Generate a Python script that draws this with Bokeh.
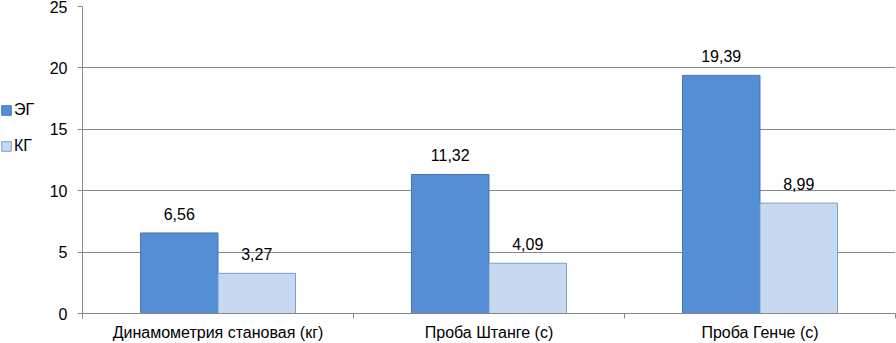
import numpy as np
from bokeh.plotting import figure
from bokeh.layouts import row
from bokeh.models import (ColumnDataSource, Range1d, FixedTicker, Legend, LegendItem,
                          LabelSet)
from bokeh.core.properties import value
from bokeh.embed import file_html
from bokeh.resources import INLINE

categories = ["Динамометрия становая (кг)", "Проба Штанге (с)", "Проба Генче (с)"]
series_names = ["ЭГ", "КГ"]
eg_values = [6.56, 11.32, 19.39]
kg_values = [3.27, 4.09, 8.99]
y_ticks = [0, 5, 10, 15, 20, 25]

FONT = "Liberation Sans"
FS = "16px"
BAR_W = 0.286
GREY = "#878787"
EG_FILL, EG_LINE = "#558ED5", "#4677BE"
KG_FILL, KG_LINE = "#C6D9F1", "#7A9FD0"

W, H = 896, 343
LEG_W = 40

centers = np.arange(len(categories)) + 0.5
fmt = lambda v: f"{v:.2f}".replace(".", ",")

src_eg = ColumnDataSource(dict(x=centers - BAR_W / 2, top=eg_values,
                               lbl=[fmt(v) for v in eg_values]))
src_kg = ColumnDataSource(dict(x=centers + BAR_W / 2, top=kg_values,
                               lbl=[fmt(v) for v in kg_values]))

p = figure(width=W - LEG_W, height=H, output_backend="svg", toolbar_location=None,
           x_range=Range1d(0, len(categories)), y_range=Range1d(0, 25),
           min_border_left=82 - LEG_W, min_border_right=1, min_border_top=6,
           min_border_bottom=29)
p.outline_line_color = None
p.background_fill_color = "white"
p.border_fill_color = "white"

p.vbar(x="x", top="top", width=BAR_W, source=src_eg,
       fill_color=EG_FILL, line_color=EG_LINE, line_width=1)
p.vbar(x="x", top="top", width=BAR_W, source=src_kg,
       fill_color=KG_FILL, line_color=KG_LINE, line_width=1)

for src in (src_eg, src_kg):
    p.add_layout(LabelSet(x="x", y="top", text="lbl", source=src,
                          text_align="center", text_baseline="alphabetic",
                          y_offset=13, text_font=value(FONT), text_font_size=value(FS),
                          text_color="#000000"))

# axes
p.xaxis.ticker = FixedTicker(ticks=list(centers), minor_ticks=list(range(len(categories) + 1)))
p.xaxis.major_label_overrides = {float(c): name for c, name in zip(centers, categories)}
p.xaxis.major_tick_line_color = None
p.xaxis.major_tick_out = 0
p.xaxis.major_tick_in = 0
p.xaxis.minor_tick_out = 5
p.xaxis.minor_tick_in = 0
p.xaxis.minor_tick_line_color = GREY
p.xaxis.axis_line_color = GREY
p.xaxis.major_label_standoff = 5
p.xaxis.major_label_text_font = FONT
p.xaxis.major_label_text_font_size = FS
p.xaxis.major_label_text_color = "#000000"

p.yaxis.ticker = FixedTicker(ticks=y_ticks)
p.yaxis.major_tick_out = 5
p.yaxis.major_tick_in = 0
p.yaxis.minor_tick_line_color = None
p.yaxis.major_tick_line_color = GREY
p.yaxis.axis_line_color = GREY
p.yaxis.major_label_standoff = 10
p.yaxis.major_label_text_font = FONT
p.yaxis.major_label_text_font_size = FS
p.yaxis.major_label_text_color = "#000000"

p.xgrid.grid_line_color = None
p.ygrid.ticker = FixedTicker(ticks=y_ticks)
p.ygrid.grid_line_color = GREY
p.ygrid.grid_line_width = 1

# legend panel (separate narrow figure to the left of the y axis);
# proxy bars sit outside its visible range so only the legend swatches show
lf = figure(width=LEG_W, height=H, output_backend="svg", toolbar_location=None,
            x_range=Range1d(0, 1), y_range=Range1d(0, 1),
            min_border=0, x_axis_type=None, y_axis_type=None)
lf.outline_line_color = None
lf.grid.grid_line_color = None
lf.border_fill_color = "white"
proxy = ColumnDataSource(dict(x=[5.0], top=[0.0]))
lr_eg = lf.vbar(x="x", top="top", width=BAR_W, source=proxy,
                fill_color=EG_FILL, line_color=EG_LINE)
lr_kg = lf.vbar(x="x", top="top", width=BAR_W, source=proxy,
                fill_color=KG_FILL, line_color=KG_LINE)
legend = Legend(items=[LegendItem(label=series_names[0], renderers=[lr_eg]),
                       LegendItem(label=series_names[1], renderers=[lr_kg])],
                location=(0, 158), orientation="vertical",
                glyph_width=12, glyph_height=12, label_height=12,
                label_standoff=2, spacing=18, padding=0, margin=0,
                border_line_color=None, background_fill_alpha=0,
                label_text_font=FONT, label_text_font_size=FS,
                label_text_color="#000000")
lf.add_layout(legend, "center")

layout = row(lf, p, spacing=0)
open("out.html", "w").write(file_html(layout, INLINE))
